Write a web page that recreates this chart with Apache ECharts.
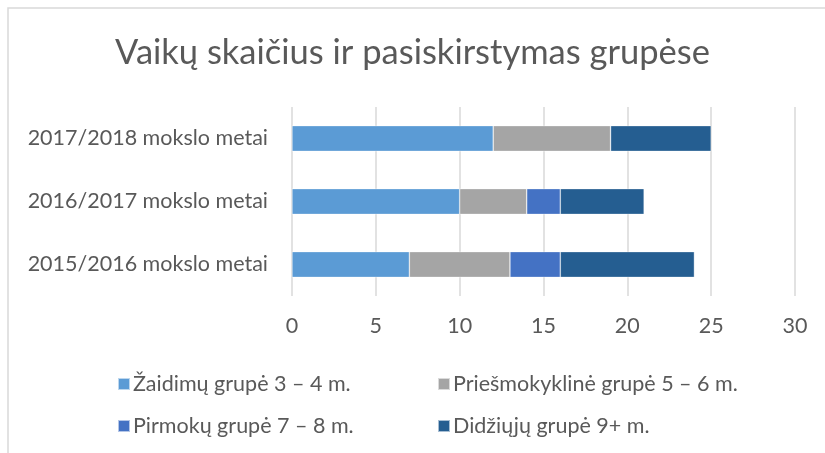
<!DOCTYPE html>
<html>
<head>
<meta charset="utf-8">
<title>Vaikų skaičius</title>
<script src="https://cdn.jsdelivr.net/npm/echarts@6/dist/echarts.min.js"></script>
<style>
  html, body { margin: 0; padding: 0; background: #fff; }
  #chart { width: 825px; height: 453px; }
</style>
</head>
<body>
<div id="chart"></div>
<script>
// data
var categories = ['2015/2016 mokslo metai', '2016/2017 mokslo metai', '2017/2018 mokslo metai'];
var seriesNames = ['Žaidimų grupė 3 – 4 m.', 'Priešmokyklinė grupė 5 – 6 m.', 'Pirmokų grupė 7 – 8 m.', 'Didžiųjų grupė 9+ m.'];
var zaidimu = [7, 10, 12];
var priesmokykline = [6, 4, 7];
var pirmoku = [3, 2, 0];
var didziuju = [8, 5, 6];
var colors = ['#5B9BD5', '#A5A5A5', '#4472C4', '#255E91'];

var font = 'Lato, "Open Sans", sans-serif';
var textColor = '#595959';

function bar(name, data, color) {
  return {
    name: name,
    type: 'bar',
    stack: 'total',
    data: data,
    barWidth: '41%',
    itemStyle: { color: color, borderColor: 'rgba(255,255,255,0.6)', borderWidth: 0.6 }
  };
}

var option = {
  animation: false,
  title: {
    text: 'Vaikų skaičius ir pasiskirstymas grupėse',
    left: 'center',
    top: 30,
    textStyle: { fontFamily: font, fontSize: 34.5, fontWeight: 'normal', color: textColor }
  },
  legend: [{
    orient: 'vertical',
    left: 112,
    top: 368,
    itemWidth: 12,
    itemHeight: 12,
    itemGap: 20,
    icon: 'rect',
    data: [seriesNames[0], seriesNames[2]],
    textStyle: { fontFamily: font, fontSize: 21.5, color: textColor, padding: [0, 0, 0, -2] }
  }, {
    orient: 'vertical',
    left: 432,
    top: 368,
    itemWidth: 12,
    itemHeight: 12,
    itemGap: 20,
    icon: 'rect',
    data: [seriesNames[1], seriesNames[3]],
    textStyle: { fontFamily: font, fontSize: 21.5, color: textColor, padding: [0, 0, 0, -2] }
  }],
  grid: { left: 292, right: 30, top: 107, height: 189 },
  xAxis: {
    type: 'value',
    min: 0,
    max: 30,
    interval: 5,
    axisLine: { show: false },
    axisTick: { show: false },
    splitLine: { lineStyle: { color: '#D9D9D9', width: 1.5 } },
    axisLabel: { fontFamily: font, fontSize: 21.5, color: textColor, margin: 19 }
  },
  yAxis: {
    type: 'category',
    data: categories,
    axisLine: { show: false },
    axisTick: { show: false },
    axisLabel: { fontFamily: font, fontSize: 21.5, color: textColor, margin: 24 }
  },
  graphic: [{
    type: 'rect',
    shape: { x: 8, y: 8, width: 900, height: 600 },
    style: { fill: 'none', stroke: '#D9D9D9', lineWidth: 1.5 },
    silent: true
  }],
  series: [
    bar(seriesNames[0], zaidimu, colors[0]),
    bar(seriesNames[1], priesmokykline, colors[1]),
    bar(seriesNames[2], pirmoku, colors[2]),
    bar(seriesNames[3], didziuju, colors[3])
  ]
};

echarts.init(document.getElementById('chart')).setOption(option);
</script>
</body>
</html>
